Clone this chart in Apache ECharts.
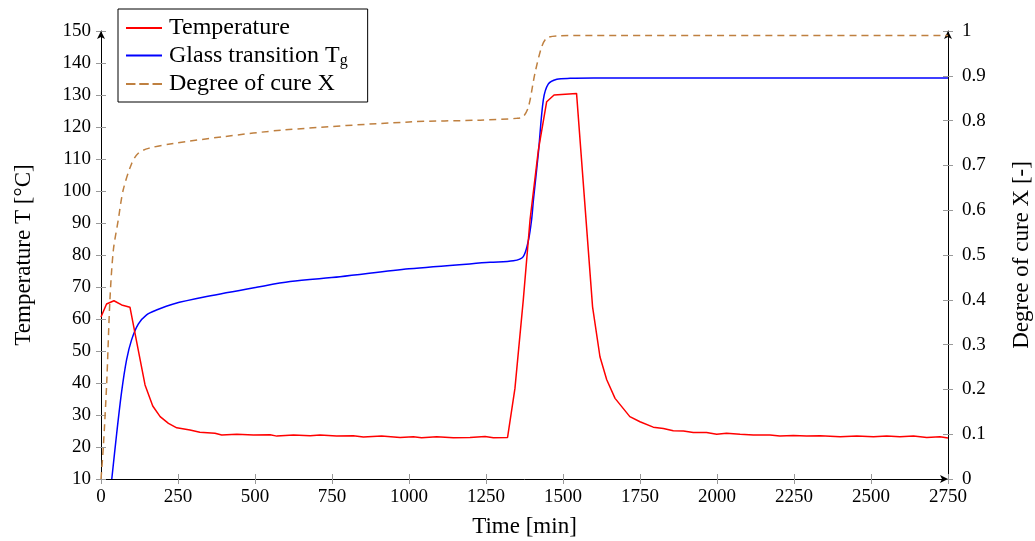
<!DOCTYPE html>
<html><head><meta charset="utf-8">
<script src="https://cdn.jsdelivr.net/npm/echarts@6/dist/echarts.min.js"></script>
<style>html,body{margin:0;padding:0;background:#fff}#c{width:1035px;height:541px}</style>
</head><body><div id="c"></div>
<script>
var tempTime = [0,18,42,67,94,121,143,168,192,219,246,289,321,370,392,441,495,549,571,625,679,711,765,819,852,911,971,1014,1041,1090,1144,1198,1247,1274,1320,1344,1371,1393,1420,1447,1471,1544,1596,1620,1642,1669,1717,1750,1793,1826,1858,1891,1923,1966,1999,2031,2075,2118,2172,2204,2248,2291,2335,2400,2454,2508,2551,2594,2638,2681,2724,2750];
var tempVal  = [60.6,64.7,65.7,64.4,63.7,50.3,39.4,32.8,29.5,27.4,26,25.3,24.6,24.3,23.75,23.97,23.75,23.8,23.4,23.75,23.5,23.75,23.4,23.5,23.1,23.4,23,23.2,22.9,23.2,22.9,23,23.3,22.9,23,38.3,65.9,91,112.8,127.9,130,130.5,63.8,48.2,41,35.2,29.5,27.9,26.2,25.8,25.1,25,24.5,24.5,24,24.3,24,23.75,23.75,23.4,23.6,23.4,23.5,23.2,23.4,23.2,23.4,23.2,23.4,23,23.2,22.8];
var tgTime = [35,51,67,83,99,121,148,180,235,343,505,614,776,1000,1263,1339,1371,1388,1398,1404,1420,1436,1452,1480,1523,1600,2750];
var tgVal  = [10,24.3,37.3,47.2,53.4,58.4,61.3,62.8,64.7,67,69.9,71.7,73.2,75.7,77.7,78.2,79.5,84.7,91,97.2,111.8,128.4,133.4,134.9,135.2,135.3,135.3];
var cureTime = [0,7.6,18.5,29,40,56,72,100,121,154,235,397,592,1000,1231,1350,1371,1388,1409,1431,1447,1480,1600,2750];
var cureVal  = [0,0.072,0.214,0.40,0.51,0.578,0.645,0.705,0.727,0.738,0.749,0.764,0.779,0.797,0.801,0.805,0.809,0.831,0.906,0.965,0.984,0.989,0.99,0.99];
var xTicks = [0,250,500,750,1000,1250,1500,1750,2000,2250,2500,2750];
var yTicksLeft = [10,20,30,40,50,60,70,80,90,100,110,120,130,140,150];
var yTicksRight = [0,0.1,0.2,0.3,0.4,0.5,0.6,0.7,0.8,0.9,1];

function zip(a,b){return a.map(function(v,i){return [v,b[i]];});}
var FONT = 'Liberation Serif';
var FS = 19, FT = 23, FL = 24;
var tickStyle = {show:true, length:5, lineStyle:{color:'#999', width:1}};
var grid = {left:101, right:87, top:31, bottom:62, containLabel:false, outerBoundsMode:'none'};
var chart = echarts.init(document.getElementById('c'), null, {renderer:'canvas'});
chart.setOption({
  animation:false,
  textStyle:{fontFamily:FONT},
  grid:[grid, Object.assign({}, grid)],
  legend:{
    left:118, top:9, orient:'vertical', itemWidth:36, itemHeight:2, itemGap:3.5,
    padding:[7,20,6,8], borderColor:'#000', borderWidth:1, backgroundColor:'#fff',
    textStyle:{fontFamily:FONT, fontSize:FL, color:'#000', lineHeight:24, padding:[0,0,0,2],
      rich:{n:{fontFamily:FONT,fontSize:FL,color:'#000',lineHeight:24}, sub:{fontFamily:FONT,fontSize:16,color:'#000',padding:[10,0,0,0]}}},
    formatter:function(name){ if(name==='Glass transition Tg') return '{n|Glass transition T}{sub|g}'; return name; },
    data:[
      {name:'Temperature', icon:'rect'},
      {name:'Glass transition Tg', icon:'rect'},
      {name:'Degree of cure X', icon:'path://M0 0H10V2H0Z M14 0H24V2H14Z M28 0H38V2H28Z'}
    ]
  },
  xAxis:[{
    type:'value', gridIndex:0, min:0, max:2750, interval:250,
    name:'Time [min]', nameLocation:'middle', nameGap:36,
    nameTextStyle:{fontFamily:FONT,fontSize:FT,color:'#000'},
    axisLine:{show:true, lineStyle:{color:'#000',width:1}, symbol:['none','arrow'], symbolSize:[6,8]},
    axisTick:tickStyle, splitLine:{show:false},
    axisLabel:{fontFamily:FONT,fontSize:FS,color:'#000',margin:9,
      formatter:function(v){return xTicks.indexOf(v)>=0?String(v):'';}}
  },{
    type:'value', gridIndex:1, min:0, max:2750, interval:250,
    axisLine:{show:false}, axisLabel:{show:false}, splitLine:{show:false},
    axisTick:{show:true, inside:true, length:5, lineStyle:{color:'#999',width:1}}
  }],
  yAxis:[{
    type:'value', gridIndex:0, position:'left', min:10, max:150, interval:10,
    name:'Temperature T [°C]', nameLocation:'middle', nameGap:66, nameRotate:90,
    nameTextStyle:{fontFamily:FONT,fontSize:FT,color:'#000'},
    axisLine:{show:true, lineStyle:{color:'#000',width:1}, symbol:['none','arrow'], symbolSize:[6,8]},
    axisTick:tickStyle, splitLine:{show:false},
    axisLabel:{fontFamily:FONT,fontSize:FS,color:'#000',margin:10,
      formatter:function(v){return yTicksLeft.indexOf(v)>=0?String(v):'';}}
  },{
    type:'value', gridIndex:0, position:'right', min:0, max:1, interval:0.1,
    name:'Degree of cure X [-]', nameLocation:'middle', nameGap:62, nameRotate:90,
    nameTextStyle:{fontFamily:FONT,fontSize:FT,color:'#000'},
    axisLine:{show:true, lineStyle:{color:'#000',width:1}, symbol:['none','arrow'], symbolSize:[6,8]},
    axisTick:tickStyle, splitLine:{show:false},
    axisLabel:{fontFamily:FONT,fontSize:FS,color:'#000',margin:14,
      formatter:function(v){var r=Math.round(v*10)/10; return String(r);}}
  },{
    type:'value', gridIndex:1, position:'left', min:10, max:150, interval:10,
    axisLine:{show:false}, axisLabel:{show:false}, splitLine:{show:false},
    axisTick:{show:true, inside:true, length:5, lineStyle:{color:'#999',width:1}}
  },{
    type:'value', gridIndex:1, position:'right', min:0, max:1, interval:0.1,
    axisLine:{show:false}, axisLabel:{show:false}, splitLine:{show:false},
    axisTick:{show:true, inside:true, length:5, lineStyle:{color:'#999',width:1}}
  }],
  series:[{
    name:'Temperature', type:'line', xAxisIndex:0, yAxisIndex:0, symbol:'none', smooth:false,
    data:zip(tempTime,tempVal), lineStyle:{color:'#ff0000', width:1.5}, itemStyle:{color:'#ff0000'}, z:3
  },{
    name:'Glass transition Tg', type:'line', xAxisIndex:0, yAxisIndex:0, symbol:'none', smooth:0.3,
    data:zip(tgTime,tgVal), lineStyle:{color:'#0000ff', width:1.5}, itemStyle:{color:'#0000ff'}, z:2
  },{
    name:'Degree of cure X', type:'line', xAxisIndex:0, yAxisIndex:1, symbol:'none', smooth:0.3,
    data:zip(cureTime,cureVal), lineStyle:{color:'#bf8040', width:1.5, type:[7,5]}, itemStyle:{color:'#bf8040'}, z:1
  }]
});
</script></body></html>
